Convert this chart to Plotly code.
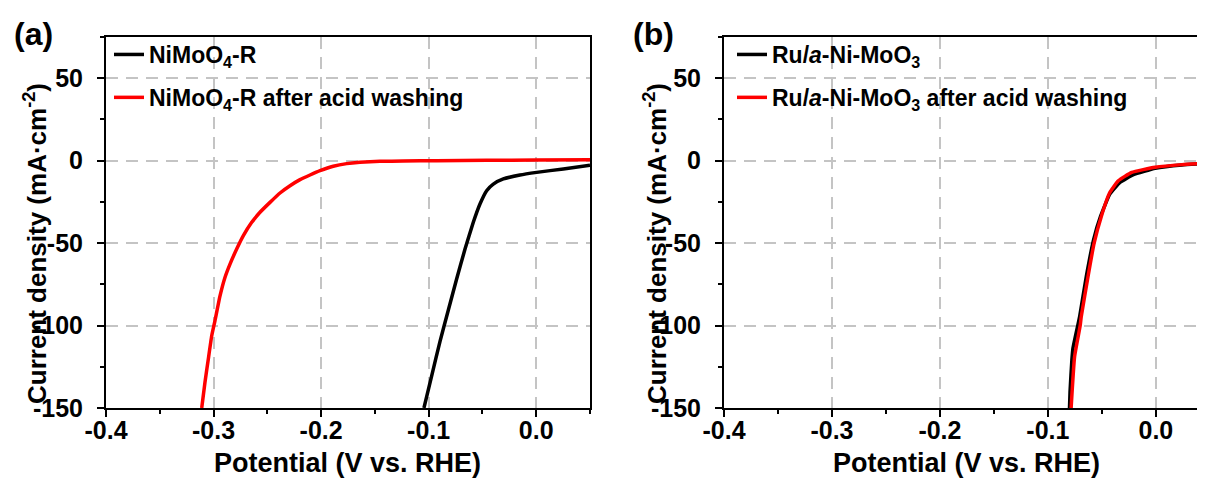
import plotly.graph_objects as go

# ---------------- data ----------------
a_black_x = [-0.1044, -0.0972, -0.0895, -0.0817, -0.0740, -0.0662, -0.0585, -0.0523, -0.0461,
             -0.0399, -0.0306, -0.0151, 0.0004, 0.0252, 0.0500]
a_black_y = [-150, -130.5, -109.7, -90.6, -71.8, -53.6, -37.4, -26.3, -18.2,
             -14.2, -11.1, -8.7, -7.1, -5.0, -2.8]

a_red_x = [-0.3110, -0.3080, -0.3049, -0.3017, -0.2987, -0.2940, -0.2894, -0.2847, -0.2785,
           -0.2723, -0.2645, -0.2568, -0.2475, -0.2382, -0.2289, -0.2196, -0.2103, -0.2010,
           -0.1887, -0.1762, -0.1639, -0.1453, -0.1236, -0.0926, -0.0461, 0.0000, 0.0500]
a_red_y = [-150, -134.5, -120.4, -106.2, -97.1, -82.0, -70.8, -62.7, -53.6,
           -45.5, -37.4, -31.3, -25.3, -19.6, -15.2, -11.5, -8.7, -6.1,
           -3.4, -1.8, -1.0, -0.4, -0.2, 0.0, 0.2, 0.4, 0.6]

b_black_x = [-0.0800, -0.0795, -0.0778, -0.0768, -0.0706, -0.0644, -0.0576, -0.0511, -0.0427,
             -0.0333, -0.0208, -0.0006, 0.0243, 0.0455]
b_black_y = [-150, -140, -120.9, -113.8, -94.5, -70.1, -47.7, -33.5, -20.3,
             -13.2, -8.5, -4.6, -2.6, -1.8]

b_red_x = [-0.0785, -0.0753, -0.0701, -0.0691, -0.0628, -0.0572, -0.0504, -0.0427, -0.0348,
           -0.0224, -0.0006, 0.0243, 0.0455]
b_red_y = [-150, -118.9, -100, -94.5, -70.1, -50.0, -33.5, -19.3, -12.2,
           -7.1, -4.0, -2.4, -1.6]

x_tickvals = [-0.4, -0.3, -0.2, -0.1, 0.0]
x_ticktext = ["-0.4", "-0.3", "-0.2", "-0.1", "0.0"]
y_tickvals = [-150, -100, -50, 0, 50]
y_ticktext = ["-150", "-100", "-50", "0", "50"]

names_a = ["NiMoO<sub>4</sub>-R", "NiMoO<sub>4</sub>-R after acid washing"]
names_b = ["Ru/<i>a</i>-Ni-MoO<sub>3</sub>", "Ru/<i>a</i>-Ni-MoO<sub>3</sub> after acid washing"]
panel_labels = ["(a)", "(b)"]
y_title = "Current density (mA·cm<sup>-2</sup>)"
x_title = "Potential (V vs. RHE)"

# ---------------- figure ----------------
# the page body adds an 8px margin, so the figure is 8px smaller and all
# pixel positions below are given in figure coordinates (page - 8)
W, H = 1197, 477
TOP, BOT = 29, 400            # plot area rows in figure pixels
PH = BOT - TOP
FONT = "Arial, Liberation Sans, sans-serif"


def py(ypx):
    """figure pixel row -> paper y (paper spans the plot area)"""
    return (BOT - ypx) / PH


fig = go.Figure()
line_w = 3.5
spl = dict(shape="spline", smoothing=0.4)
fig.add_trace(go.Scatter(x=a_black_x, y=a_black_y, mode="lines", name=names_a[0],
                         line=dict(color="black", width=line_w, **spl),
                         xaxis="x", yaxis="y", legend="legend", legendgroup="a1"))
fig.add_trace(go.Scatter(x=a_red_x, y=a_red_y, mode="lines", name=names_a[1],
                         line=dict(color="#ff0000", width=line_w, **spl),
                         xaxis="x", yaxis="y", legend="legend", legendgroup="a2"))
fig.add_trace(go.Scatter(x=b_black_x, y=b_black_y, mode="lines", name=names_b[0],
                         line=dict(color="black", width=line_w, **spl),
                         xaxis="x2", yaxis="y2", legend="legend2", legendgroup="b1"))
fig.add_trace(go.Scatter(x=b_red_x, y=b_red_y, mode="lines", name=names_b[1],
                         line=dict(color="#ff0000", width=line_w, **spl),
                         xaxis="x2", yaxis="y2", legend="legend2", legendgroup="b2"))

grid = dict(showgrid=True, gridcolor="#c4c4c4", gridwidth=2, griddash="12px,8px")
tickfont = dict(family=FONT, size=25, color="black", weight="bold")


def xax(domain, rng, mirror):
    return dict(domain=domain, range=rng, tickmode="array", tickvals=x_tickvals, ticktext=x_ticktext,
                showline=True, linecolor="black", linewidth=2, mirror=mirror,
                ticks="outside", ticklen=7, tickwidth=2, tickcolor="black",
                minor=dict(tick0=-0.4, dtick=0.05, ticks="outside", ticklen=4, tickwidth=2,
                           tickcolor="black", showgrid=False),
                zeroline=False, tickfont=tickfont, ticklabelstandoff=-8, automargin=False,
                **grid)


def yax(anchor, mirror):
    return dict(domain=[0, 1], range=[-150, 75], anchor=anchor, tickmode="array",
                tickvals=y_tickvals, ticktext=y_ticktext,
                showline=True, linecolor="black", linewidth=2, mirror=mirror,
                ticks="outside", ticklen=7, tickwidth=2, tickcolor="black",
                minor=dict(tick0=-150, dtick=25, ticks="outside", ticklen=4, tickwidth=2,
                           tickcolor="black", showgrid=False),
                zeroline=False, tickfont=tickfont, ticklabelstandoff=9, automargin=False, **grid)


legfont = dict(family=FONT, size=23, color="black", weight="bold")
fig.update_layout(
    width=W, height=H,
    margin=dict(l=0, r=0, t=TOP, b=H - BOT, autoexpand=False),
    paper_bgcolor="white", plot_bgcolor="white",
    xaxis=xax([98 / W, 582 / W], [-0.4, 0.05], True),
    yaxis=yax("x", True),
    xaxis2=xax([716 / W, 1.0], [-0.4, 0.0455], True),
    yaxis2=yax("x2", False),
    legend=dict(x=101 / W, y=py(25), xanchor="left", yanchor="top", bgcolor="rgba(0,0,0,0)",
                font=legfont, tracegroupgap=10, traceorder="grouped"),
    legend2=dict(x=724 / W, y=py(25), xanchor="left", yanchor="top", bgcolor="rgba(0,0,0,0)",
                 font=legfont, tracegroupgap=10, traceorder="grouped"),
    showlegend=True,
)

ann = []
for lbl, xc in zip(panel_labels, [25, 645]):
    ann.append(dict(text=lbl, x=xc / W, y=py(26), xref="paper", yref="paper",
                    showarrow=False, xanchor="center", yanchor="middle",
                    font=dict(family=FONT, size=32, color="black", weight="bold")))
for xc in [27, 647]:
    ann.append(dict(text=y_title, x=xc / W, y=py(236), xref="paper", yref="paper",
                    showarrow=False, xanchor="center", yanchor="middle", textangle=-90,
                    font=dict(family=FONT, size=26, color="black", weight="bold")))
for xc in [339, 958]:
    ann.append(dict(text=x_title, x=xc / W, y=py(455), xref="paper", yref="paper",
                    showarrow=False, xanchor="center", yanchor="middle",
                    font=dict(family=FONT, size=27, color="black", weight="bold")))
fig.update_layout(annotations=ann)

fig.write_html("out.html")
